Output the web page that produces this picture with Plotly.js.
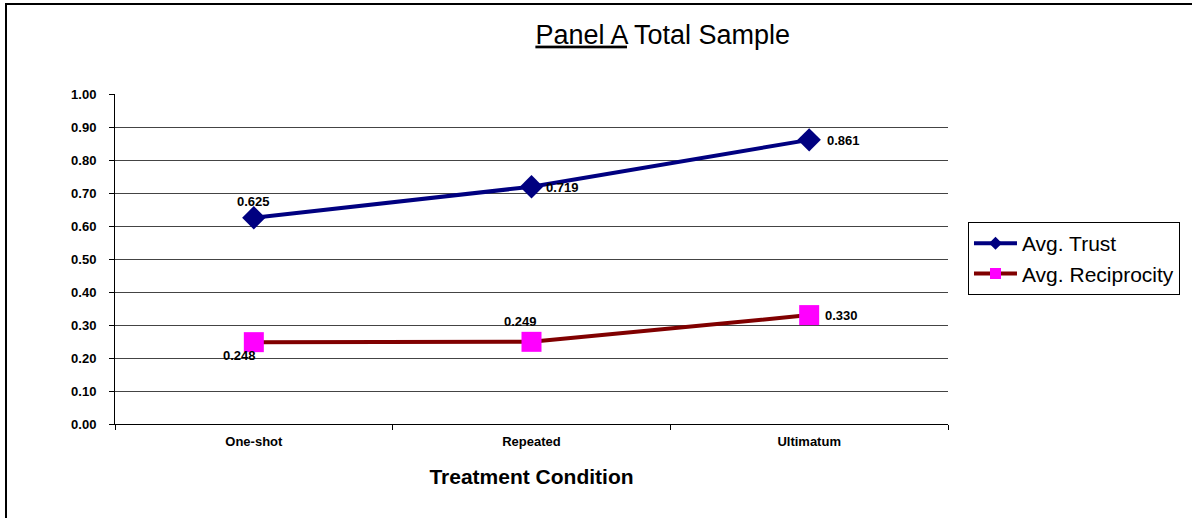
<!DOCTYPE html>
<html>
<head>
<meta charset="utf-8">
<script src="https://cdn.plot.ly/plotly-3.0.1.min.js"></script>
<style>
  html, body { margin: 0; padding: 0; width: 1192px; height: 518px; overflow: hidden; background: #fff; }
  #frame { position: absolute; left: 5px; top: 3px; width: 1220px; height: 540px; border: 2px solid #000; box-sizing: border-box; pointer-events: none; z-index: 5; }
  #chart { position: absolute; left: 0; top: 0; width: 1192px; height: 518px; }
</style>
</head>
<body>
<div id="chart"></div>
<div id="frame"></div>
<script>
const categories = ["One-shot", "Repeated", "Ultimatum"];
const trustValues = [0.625, 0.719, 0.861];
const reciprocityValues = [0.248, 0.249, 0.330];
const trustName = "Avg. Trust";
const reciprocityName = "Avg. Reciprocity";
const yTickVals = [0, 0.1, 0.2, 0.3, 0.4, 0.5, 0.6, 0.7, 0.8, 0.9, 1.0];

const FF = "Arial, Liberation Sans, sans-serif";
const labelFont = {family: FF, size: 13, color: "#000"};

const traces = [
  {
    x: categories, y: trustValues, name: trustName, type: "scatter", mode: "lines+markers",
    line: {color: "#000080", width: 4},
    marker: {symbol: "diamond", size: 18, color: "#000080"}, showlegend: false
  },
  {
    x: categories, y: reciprocityValues, name: reciprocityName, type: "scatter", mode: "lines+markers",
    line: {color: "#800000", width: 4},
    marker: {symbol: "square", size: 20, color: "#FF00FF"}, showlegend: false
  },
  // legend entries (small markers, as in the original legend)
  {
    x: [null], y: [null], name: trustName, type: "scatter", mode: "lines+markers",
    line: {color: "#000080", width: 4}, marker: {symbol: "diamond", size: 10, color: "#000080"}
  },
  {
    x: [null], y: [null], name: reciprocityName, type: "scatter", mode: "lines+markers",
    line: {color: "#800000", width: 4}, marker: {symbol: "square", size: 11, color: "#FF00FF"}
  }
];

const trustOffsets = [[0, 16, "center"], [12, -1, "left"], [16, -1, "left"]];
const recipOffsets = [[-14, -13, "center"], [-11, 20, "center"], [14, 0, "left"]];
const annotations = [];
trustValues.forEach((v, i) => annotations.push({
  x: categories[i], y: v, xref: "x", yref: "y", text: "<b>" + v.toFixed(3) + "</b>",
  showarrow: false, xanchor: trustOffsets[i][2], yanchor: "middle",
  xshift: trustOffsets[i][0], yshift: trustOffsets[i][1], font: labelFont
}));
reciprocityValues.forEach((v, i) => annotations.push({
  x: categories[i], y: v, xref: "x", yref: "y", text: "<b>" + v.toFixed(3) + "</b>",
  showarrow: false, xanchor: recipOffsets[i][2], yanchor: "middle",
  xshift: recipOffsets[i][0], yshift: recipOffsets[i][1], font: labelFont
}));

const layout = {
  width: 1192, height: 518,
  margin: {l: 115, r: 244, t: 94, b: 94},
  paper_bgcolor: "#fff", plot_bgcolor: "#fff",
  font: {family: FF, color: "#000"},
  title: {
    text: "<u>Panel A</u> Total Sample",
    font: {family: FF, size: 27, color: "#000"},
    xref: "container", yref: "container", x: 0.556, y: 0.934, xanchor: "center", yanchor: "middle"
  },
  xaxis: {
    type: "category", range: [-0.5, 2.5],
    tickson: "boundaries", ticks: "outside", ticklen: 5, tickcolor: "#000",
    ticklabelstandoff: 5,
    showline: true, linecolor: "#000", linewidth: 1, showgrid: false, zeroline: false,
    tickfont: {family: FF, size: 13, color: "#000", weight: "bold"},
    title: {text: "<b>Treatment Condition</b>", font: {family: FF, size: 21, color: "#000"}, standoff: 21}
  },
  yaxis: {
    range: [0, 1], tickvals: yTickVals, tickformat: ".2f",
    ticks: "outside", ticklen: 5, tickcolor: "#000",
    ticklabelstandoff: 10,
    showline: true, linecolor: "#000", linewidth: 1,
    showgrid: true, gridcolor: "#444", gridwidth: 1, zeroline: false,
    tickfont: {family: FF, size: 13, color: "#000", weight: "bold"}
  },
  legend: {
    x: 1.024, y: 0.612, xanchor: "left", yanchor: "top",
    bordercolor: "#000", borderwidth: 1, bgcolor: "#fff",
    font: {family: FF, size: 21, color: "#000"},
    itemwidth: 43
  },
  annotations: annotations,
  showlegend: true
};

Plotly.newPlot("chart", traces, layout, {displayModeBar: false, staticPlot: true});
</script>
</body>
</html>
